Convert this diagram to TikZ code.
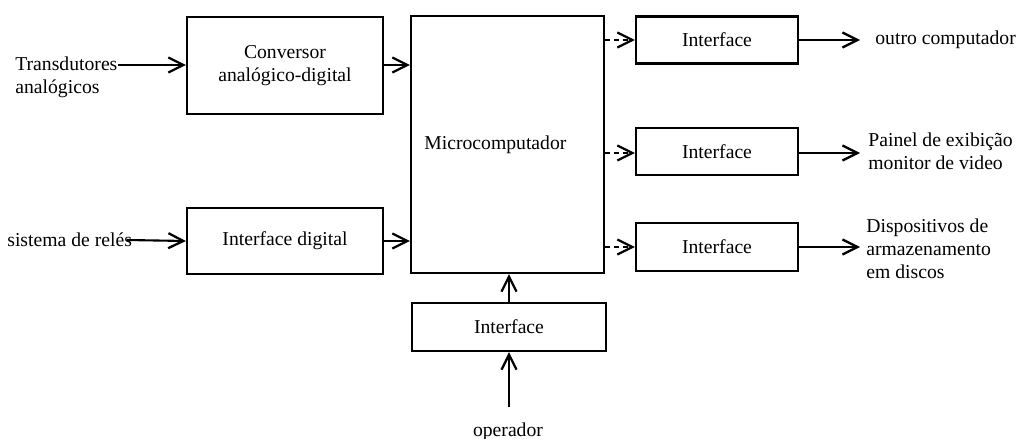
\documentclass[tikz,border=0pt]{standalone}
\usepackage{fontspec}
\setmainfont{Liberation Serif}
\newfontfamily\fonteserif{Liberation Serif}
\usetikzlibrary{arrows.meta}
\tikzset{
  bloco/.style={draw, line width=1.3pt, inner sep=0pt, align=center},
  rotulo/.style={inner sep=0pt, align=left},
  seta/.style={line width=1.2pt, -{Straight Barb[length=3mm,width=3mm,line width=1.3pt]}},
  setafraca/.style={seta, densely dashed}
}
\begin{document}
\begin{tikzpicture}[x=0.02cm, y=-0.02cm, font=\fonteserif\fontsize{11.2}{13}\selectfont]
  \useasboundingbox (0,0) rectangle (1020,439);
  % blocos
  \node[bloco, minimum width=3.92cm, minimum height=1.94cm] (conversor) at (285,65.5) {Conversor\\analógico-digital};
  \node[bloco, minimum width=3.92cm, minimum height=1.32cm] (digital) at (285,241) {Interface digital};
  \node[bloco, minimum width=3.86cm, minimum height=5.14cm] (micro) at (507.5,144.5) {};
  \node[rotulo, anchor=west] (microtxt) at (424,145) {Microcomputador};
  \node[bloco, minimum width=3.24cm, minimum height=0.94cm] (ifout) at (717,40) {Interface};
  \node[bloco, minimum width=3.24cm, minimum height=0.94cm] (ifmon) at (717,151.5) {Interface};
  \node[bloco, minimum width=3.24cm, minimum height=0.96cm] (ifdisk) at (717,247) {Interface};
  \node[bloco, minimum width=3.88cm, minimum height=0.96cm] (ifop) at (509,327) {Interface};
  % textos de entrada e saida
  \node[rotulo, anchor=west] (transd) at (15,77) {Transdutores\\analógicos};
  \node[rotulo, anchor=west] (reles) at (7,240) {sistema de relés};
  \node[rotulo, anchor=west] (outro) at (875,40) {outro computador};
  \node[rotulo, anchor=west] (painel) at (868,151) {Painel de exibição\\monitor de video};
  \node[rotulo, anchor=west] (disp) at (866,249) {Dispositivos de\\armazenamento\\em discos};
  \node[rotulo] (operador) at (508,432) {operador};
  \coordinate (transdin) at (118,65);
  \coordinate (relesin) at (127,240);
  \coordinate (outroin) at (860,40);
  \coordinate (painelin) at (860,153);
  \coordinate (dispin) at (860,247);
  \coordinate (opin) at (509,407);
  % setas
  \draw[seta] (transdin) -- (transdin -| conversor.west);
  \draw[seta] (relesin) -- (digital.west);
  \draw[seta] (transdin -| conversor.east) -- (transdin -| micro.west);
  \draw[seta] (digital.east) -- (digital.east -| micro.west);
  \draw[setafraca] (ifout.west -| micro.east) -- (ifout.west);
  \draw[setafraca] (painelin -| micro.east) -- (painelin -| ifmon.west);
  \draw[setafraca] (ifdisk.west -| micro.east) -- (ifdisk.west);
  \draw[seta] (ifout.east) -- (ifout.east -| outroin);
  \draw[seta] (painelin -| ifmon.east) -- (painelin);
  \draw[seta] (ifdisk.east) -- (ifdisk.east -| dispin);
  \draw[seta] (ifop.north) -- (ifop.north |- micro.south);
  \draw[seta] (opin) -- (ifop.south);
\end{tikzpicture}
\end{document}
